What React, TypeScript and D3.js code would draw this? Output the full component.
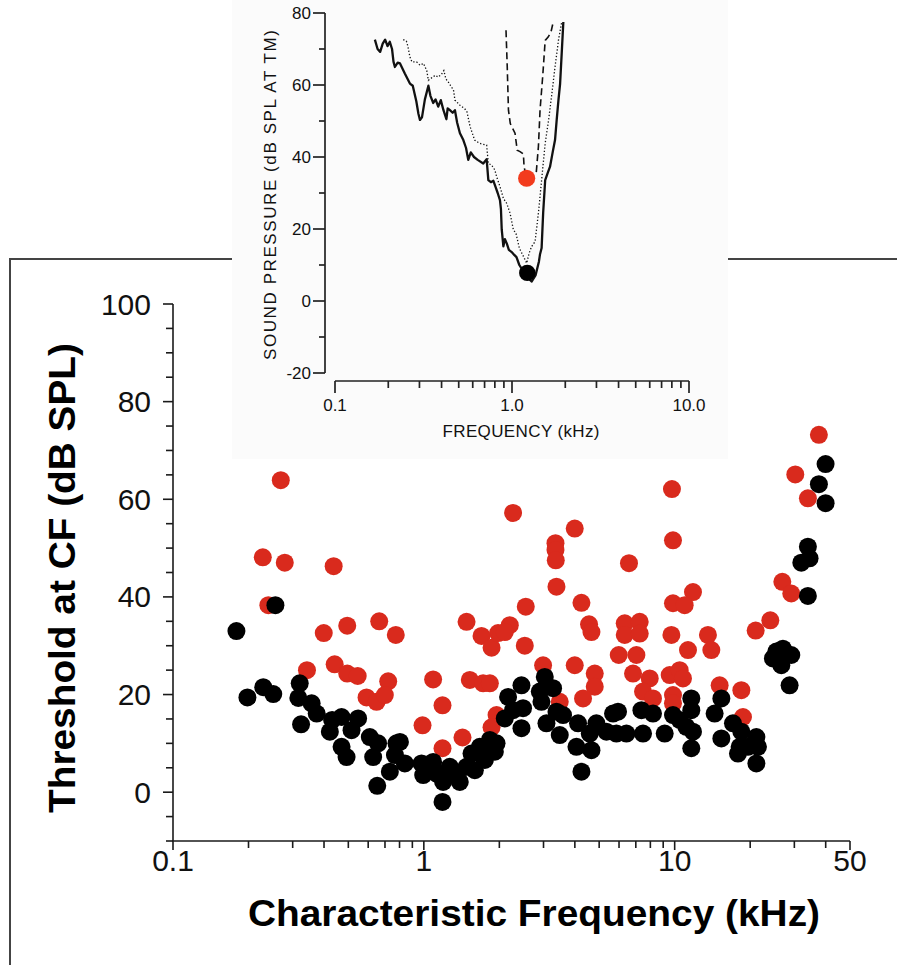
import React from "react";
import * as d3 from "d3";

// ---------- Main chart data: [characteristic frequency kHz, threshold dB SPL] ----------
const blackPoints: [number, number][] = [
  [0.179, 33.0], [0.256, 38.3], [0.198, 19.4], [0.229, 21.5], [0.251, 20.1], [0.32, 22.3], [0.316, 19.3],
  [0.357, 18.2], [0.374, 16.1], [0.324, 13.9], [0.431, 14.8], [0.47, 15.4], [0.547, 15.1], [0.422, 12.4],
  [0.515, 12.7], [0.47, 9.3], [0.609, 11.3], [0.657, 10.0], [0.492, 7.2], [0.628, 7.2], [0.778, 10.0],
  [0.767, 7.6], [0.732, 4.2], [0.652, 1.3], [0.803, 10.3], [0.84, 5.9], [0.979, 5.9], [0.994, 3.5],
  [1.089, 6.2], [1.124, 3.8], [1.194, 2.1], [1.187, -2.0], [1.269, 5.2], [1.35, 3.5], [1.391, 2.1],
  [1.48, 5.2], [1.549, 7.9], [1.597, 4.5], [1.672, 9.3], [1.75, 6.6], [1.833, 10.7], [1.919, 8.3],
  [1.949, 10.0], [2.167, 19.5], [2.102, 15.1], [2.269, 16.8], [2.486, 17.2], [2.45, 21.9], [2.45, 13.1],
  [3.035, 23.6], [2.899, 20.6], [3.275, 21.3], [2.944, 18.5], [3.082, 14.1], [3.379, 16.5], [3.589, 15.8],
  [3.482, 11.7], [4.119, 14.1], [4.059, 9.3], [4.586, 12.0], [4.658, 8.6], [4.249, 4.2], [4.875, 14.1],
  [5.345, 12.4], [5.679, 16.1], [5.945, 16.5], [5.859, 12.0], [6.422, 12.0], [7.369, 16.8], [8.195, 16.1],
  [7.478, 12.0], [9.125, 12.0], [9.847, 15.8], [10.47, 14.8], [11.65, 19.2], [11.65, 16.8], [11.13, 13.4],
  [11.83, 12.4], [11.65, 9.0], [15.35, 19.2], [14.43, 16.1], [15.35, 11.0], [17.08, 14.1], [18.44, 12.4],
  [18.16, 9.3], [21.17, 11.3], [21.48, 9.3], [19.59, 9.3], [17.88, 7.9], [21.17, 5.9], [25.42, 28.8],
  [27.01, 29.4], [29.17, 28.1], [24.64, 27.4], [26.62, 26.0], [28.72, 21.9], [33.97, 40.2], [33.97, 50.3],
  [34.5, 47.9], [31.98, 47.0], [39.96, 67.2], [37.58, 63.1], [39.96, 59.2],
];

const redPoints: [number, number][] = [
  [0.269, 63.9], [0.228, 48.1], [0.279, 47.0], [0.437, 46.3], [0.24, 38.3], [0.399, 32.6], [0.495, 34.1],
  [0.664, 35.0], [0.773, 32.2], [0.342, 25.0], [0.441, 26.2], [0.495, 24.3], [0.545, 23.8], [0.721, 22.7],
  [0.591, 19.4], [0.648, 18.5], [0.699, 19.9], [2.269, 57.2], [1.48, 34.9], [1.698, 32.0], [1.862, 29.6],
  [1.977, 32.6], [2.201, 34.2], [1.089, 23.1], [1.187, 17.8], [0.988, 13.7], [1.187, 9.0], [1.426, 11.2],
  [1.525, 23.0], [1.723, 22.3], [1.833, 22.3], [1.949, 15.8], [1.862, 13.3], [2.988, 26.0], [3.996, 26.0],
  [4.801, 24.3], [4.801, 21.6], [4.312, 19.2], [3.482, 18.5], [3.996, 54.0], [3.348, 51.0], [3.348, 49.6],
  [3.357, 47.5], [3.379, 42.1], [4.249, 38.8], [4.556, 34.4], [4.658, 32.8], [2.549, 38.0], [2.102, 32.8],
  [2.526, 30.0], [5.984, 28.1], [37.58, 73.2], [30.26, 65.1], [33.97, 60.2], [9.754, 62.1], [9.847, 51.6],
  [6.575, 46.9], [11.83, 41.0], [9.847, 38.7], [10.96, 38.3], [26.86, 43.1], [29.17, 40.7], [24.06, 35.2],
  [21.03, 33.1], [6.322, 34.6], [7.255, 34.9], [6.322, 32.2], [7.255, 32.5], [9.703, 32.2], [11.3, 29.1],
  [13.57, 32.2], [14.0, 29.1], [7.038, 28.1], [6.823, 24.3], [7.952, 23.3], [9.552, 24.0], [10.47, 25.0],
  [10.79, 23.3], [7.478, 20.6], [8.195, 19.2], [9.847, 19.9], [9.847, 18.2], [15.11, 21.9], [18.44, 20.9],
  [18.72, 15.4],
];

const xMajorTicks = [0.1, 1, 10, 50];
const xTickLabels = ["0.1", "1", "10", "50"];
const xMinorTicks = [0.2, 0.3, 0.4, 0.5, 0.6, 0.7, 0.8, 0.9, 2, 3, 4, 5, 6, 7, 8, 9, 20, 30, 40];
const yMajorTicks = [0, 20, 40, 60, 80, 100];
const yMinorTicks = [-10, -5, 5, 10, 15, 25, 30, 35, 45, 50, 55, 65, 70, 75, 85, 90, 95];

// ---------- Inset data: [frequency kHz, sound pressure dB SPL at TM] ----------
const insetSolid: [number, number][] = [
  [0.168, 72.6], [0.174, 70.0], [0.18, 69.2], [0.186, 71.5], [0.192, 72.6], [0.198, 70.8], [0.204, 72.0],
  [0.21, 70.0], [0.214, 66.5], [0.218, 65.0], [0.226, 66.2], [0.233, 66.0], [0.248, 63.2], [0.265, 60.4],
  [0.275, 59.8], [0.288, 55.5], [0.296, 52.0], [0.302, 50.3], [0.31, 51.0], [0.322, 56.0], [0.337, 59.8],
  [0.346, 57.0], [0.359, 55.0], [0.37, 56.0], [0.383, 54.0], [0.396, 55.8], [0.41, 53.0], [0.426, 50.5],
  [0.433, 53.5], [0.446, 53.0], [0.462, 52.3], [0.476, 53.0], [0.49, 49.5], [0.508, 46.6], [0.531, 44.7],
  [0.55, 42.5], [0.566, 39.2], [0.585, 41.3], [0.61, 40.0], [0.64, 39.2], [0.688, 38.2], [0.719, 39.4],
  [0.735, 33.6], [0.76, 33.0], [0.785, 33.4], [0.81, 31.5], [0.83, 30.0], [0.855, 28.0], [0.866, 25.5],
  [0.875, 19.8], [0.894, 15.2], [0.912, 17.2], [0.934, 16.0], [0.96, 14.2], [0.996, 13.6], [1.03, 12.8],
  [1.06, 12.2], [1.1, 10.0], [1.15, 8.5], [1.21, 6.8], [1.29, 5.4], [1.36, 7.2], [1.42, 11.0], [1.44, 13.0],
  [1.47, 14.7], [1.5, 24.5], [1.54, 33.6], [1.59, 35.5], [1.64, 37.3], [1.7, 41.5], [1.75, 44.7],
  [1.79, 50.5], [1.83, 55.8], [1.87, 60.4], [1.91, 69.0], [1.95, 77.5],
];
const insetDotted: [number, number][] = [
  [0.243, 72.6], [0.253, 72.2], [0.258, 70.8], [0.265, 67.8], [0.272, 66.4], [0.289, 66.4], [0.302, 65.5],
  [0.316, 66.0], [0.33, 64.0], [0.337, 61.3], [0.352, 62.0], [0.368, 62.7], [0.383, 62.2], [0.4, 63.0],
  [0.412, 64.0], [0.423, 61.7], [0.437, 60.8], [0.454, 59.5], [0.467, 58.6], [0.476, 55.8], [0.508, 54.4],
  [0.541, 53.4], [0.557, 52.5], [0.58, 48.4], [0.615, 44.7], [0.655, 43.8], [0.719, 43.3], [0.735, 38.2],
  [0.766, 37.8], [0.8, 36.4], [0.819, 34.5], [0.855, 31.8], [0.894, 28.5], [0.934, 27.1], [0.975, 24.4],
  [1.018, 19.8], [1.053, 18.8], [1.1, 14.7], [1.16, 12.4], [1.21, 10.5], [1.25, 13.3], [1.29, 15.1],
  [1.35, 16.5], [1.41, 24.4], [1.47, 33.6], [1.54, 43.8], [1.61, 50.3], [1.68, 57.6], [1.75, 65.0],
  [1.83, 72.4], [1.91, 77.5],
];
const insetDashed: [number, number][] = [
  [0.925, 75.2], [0.94, 65.0], [0.955, 53.0], [0.978, 49.3], [1.04, 46.6], [1.07, 41.9], [1.11, 41.5],
  [1.16, 40.8], [1.17, 37.3], [1.21, 34.1], [1.37, 35.5], [1.41, 42.9], [1.44, 53.0], [1.49, 62.2],
  [1.54, 72.4], [1.6, 73.3], [1.66, 74.7], [1.71, 77.5],
];
const insetRedMarker: [number, number] = [1.21, 34.1];
const insetBlackMarker: [number, number] = [1.22, 7.8];

const insetXMajor = [0.1, 1, 10];
const insetXLabels = ["0.1", "1.0", "10.0"];
const insetXMinor = [0.2, 0.3, 0.4, 0.5, 0.6, 0.7, 0.8, 0.9, 2, 3, 4, 5, 6, 7, 8, 9];
const insetYMajor = [-20, 0, 20, 40, 60, 80];
const insetYMinor = [-10, 10, 30, 50, 70];

const W = 897;
const H = 965;
const RED = "#d92a1d";
const INSET_RED = "#f23b1d";
const AXIS = "#1a1a1a";
const MAIN_FONT = "'Liberation Sans', Arial, Helvetica, sans-serif";
const INSET_FONT = "'Liberation Sans', Arial, sans-serif";

export default function App() {
  React.useEffect(() => {
    document.body.style.margin = "0";
    document.body.style.overflow = "hidden";
  }, []);

  // main scales
  const x = d3.scaleLog().domain([0.1, 50]).range([173, 850]);
  const y = d3.scaleLinear().domain([-10, 100]).range([841, 304]);
  // inset scales
  const ix = d3.scaleLog().domain([0.1, 10]).range([335, 689]);
  const iy = d3.scaleLinear().domain([-20, 80]).range([373, 13]);
  const iline = d3
    .line<[number, number]>()
    .x((d) => ix(d[0]))
    .y((d) => iy(d[1]));

  const x0 = x(0.1);
  const yBase = y(-10);

  return (
    <svg
      width={W}
      height={H}
      viewBox={`0 0 ${W} ${H}`}
      style={{ position: "absolute", left: 0, top: 0, background: "#fff" }}
    >
      <rect x={0} y={0} width={W} height={H} fill="#fff" />
      {/* frame of the main figure */}
      <line x1={10} x2={W} y1={259} y2={259} stroke="#444" strokeWidth={2} />
      <line x1={10} x2={10} y1={258} y2={H} stroke="#444" strokeWidth={2} />

      {/* main axes */}
      <g stroke={AXIS} strokeWidth={1.6}>
        <line x1={x0} x2={x0} y1={yBase} y2={y(100)} />
        <line x1={x0 - 1} x2={x(50)} y1={yBase} y2={yBase} />
        {yMajorTicks.map((t) => (
          <line key={"ym" + t} x1={x0 - 10} x2={x0} y1={y(t)} y2={y(t)} />
        ))}
        {yMinorTicks.map((t) => (
          <line key={"yn" + t} x1={x0 - 7} x2={x0} y1={y(t)} y2={y(t)} />
        ))}
        {xMajorTicks.map((t) => (
          <line key={"xm" + t} x1={x(t)} x2={x(t)} y1={yBase} y2={yBase + 9} />
        ))}
        {xMinorTicks.map((t) => (
          <line key={"xn" + t} x1={x(t)} x2={x(t)} y1={yBase} y2={yBase + 7} />
        ))}
      </g>
      <g fontFamily={MAIN_FONT} fontSize={30} fill="#111">
        {yMajorTicks.map((t) => (
          <text key={"yl" + t} x={x0 - 22} y={y(t) + 10.5} textAnchor="end">
            {String(t)}
          </text>
        ))}
        {xMajorTicks.map((t, i) => (
          <text key={"xl" + t} x={x(t)} y={yBase + 30} textAnchor="middle">
            {xTickLabels[i]}
          </text>
        ))}
      </g>
      <text
        x={534}
        y={926}
        textAnchor="middle"
        fontFamily={MAIN_FONT}
        fontWeight="bold"
        fontSize={37}
        textLength={572}
        lengthAdjust="spacingAndGlyphs"
        fill="#000"
      >
        Characteristic Frequency (kHz)
      </text>
      <text
        transform="translate(75,578) rotate(-90)"
        textAnchor="middle"
        fontFamily={MAIN_FONT}
        fontWeight="bold"
        fontSize={37}
        textLength={470}
        lengthAdjust="spacingAndGlyphs"
        fill="#000"
      >
        Threshold at CF (dB SPL)
      </text>

      {/* data points */}
      <g>
        {redPoints.map((d, i) => (
          <circle key={"r" + i} cx={x(d[0])} cy={y(d[1])} r={9} fill={RED} />
        ))}
        {blackPoints.map((d, i) => (
          <circle key={"b" + i} cx={x(d[0])} cy={y(d[1])} r={9} fill="#000" />
        ))}
      </g>

      {/* inset panel */}
      <rect x={232} y={0} width={496} height={459} fill="#fbfbfb" />
      <g stroke="#222" strokeWidth={1.7} fill="none">
        <line x1={325} x2={325} y1={iy(80)} y2={iy(-20)} />
        {insetYMajor.map((t) => (
          <line key={"iym" + t} x1={313} x2={325} y1={iy(t)} y2={iy(t)} />
        ))}
        {insetYMinor.map((t) => (
          <line key={"iyn" + t} x1={319} x2={325} y1={iy(t)} y2={iy(t)} />
        ))}
        <line x1={ix(0.1)} x2={ix(10)} y1={381} y2={381} />
        {insetXMajor.map((t) => (
          <line key={"ixm" + t} x1={ix(t)} x2={ix(t)} y1={381} y2={393} />
        ))}
        {insetXMinor.map((t) => (
          <line key={"ixn" + t} x1={ix(t)} x2={ix(t)} y1={381} y2={388} />
        ))}
      </g>
      <g fontFamily={INSET_FONT} fontSize={17} fill="#111">
        {insetYMajor.map((t) => (
          <text key={"iyl" + t} x={311} y={iy(t) + 6} textAnchor="end">
            {String(t)}
          </text>
        ))}
        {insetXMajor.map((t, i) => (
          <text key={"ixl" + t} x={ix(t)} y={411} textAnchor="middle">
            {insetXLabels[i]}
          </text>
        ))}
        <text x={521} y={437} textAnchor="middle" textLength={157} lengthAdjust="spacing">
          FREQUENCY (kHz)
        </text>
        <text
          transform="translate(276,195) rotate(-90)"
          textAnchor="middle"
          textLength={330}
          lengthAdjust="spacing"
        >
          SOUND PRESSURE (dB SPL AT TM)
        </text>
      </g>
      <g fill="none" stroke="#111">
        <path d={iline(insetDotted) || ""} strokeWidth={1.3} strokeDasharray="1.3,2" />
        <path d={iline(insetDashed) || ""} strokeWidth={1.6} strokeDasharray="7,4" />
        <path d={iline(insetSolid) || ""} strokeWidth={2.3} strokeLinejoin="round" />
      </g>
      <circle cx={ix(insetRedMarker[0])} cy={iy(insetRedMarker[1])} r={8.6} fill={INSET_RED} />
      <circle cx={ix(insetBlackMarker[0])} cy={iy(insetBlackMarker[1])} r={8.2} fill="#000" />
    </svg>
  );
}
